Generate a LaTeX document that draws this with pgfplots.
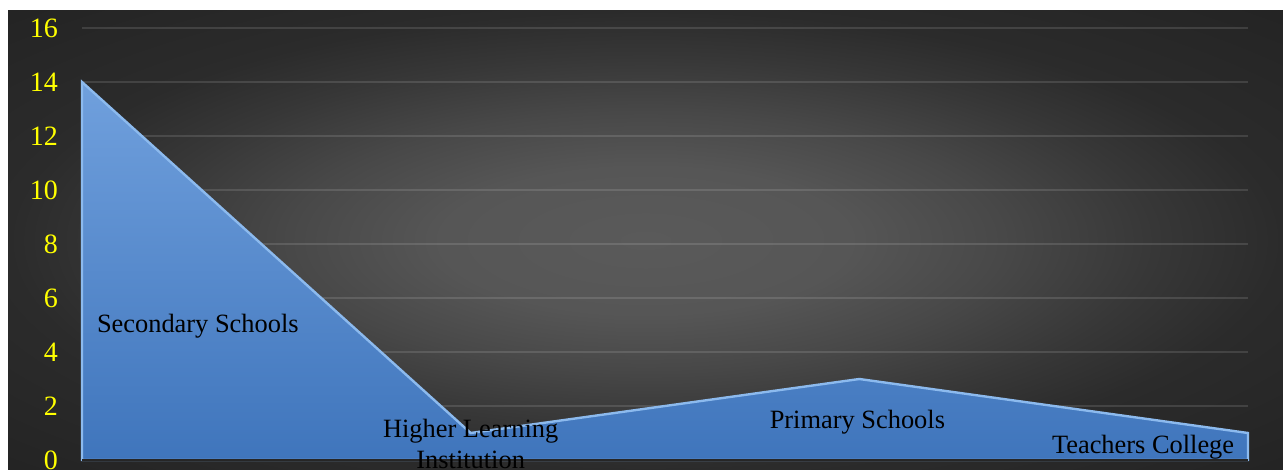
\documentclass[border=0pt]{standalone}
\usepackage{fontspec}
\setmainfont{Liberation Serif}
\usepackage{pgfplots}
\pgfplotsset{compat=1.18}
\definecolor{areatop}{HTML}{70A0DD}
\definecolor{areabot}{HTML}{3F75BC}
\definecolor{areaedge}{HTML}{8CBAEE}
\definecolor{ticky}{HTML}{FFFF00}
% broad, soft radial glow for the chart background
\pgfdeclareradialshading{bgglow}{\pgfpoint{0bp}{0bp}}{%
  color(0bp)=({rgb,255:red,90;green,90;blue,90});
  color(8bp)=({rgb,255:red,86;green,86;blue,86});
  color(14bp)=({rgb,255:red,72;green,72;blue,72});
  color(20bp)=({rgb,255:red,55;green,55;blue,55});
  color(25bp)=({rgb,255:red,43;green,43;blue,43});
  color(35bp)=({rgb,255:red,36;green,36;blue,36});
  color(50bp)=({rgb,255:red,36;green,36;blue,36})}
\begin{document}
\begin{tikzpicture}
\useasboundingbox (0,0) rectangle (641.5pt,235pt);
\fill[white] (0,0) rectangle (641.5pt,235pt);
\shade[shading=bgglow] (4pt,0) rectangle (641.5pt,229.5pt);
\begin{axis}[
  at={(41pt,5pt)}, anchor=south west,
  scale only axis, width=583pt, height=216pt,
  xmin=0, xmax=3, ymin=0, ymax=16,
  xtick=\empty, ytick={0,2,...,16},
  axis line style={draw=none},
  major tick length=0pt,
  ymajorgrids, grid style={white, opacity=0.12, line width=0.8pt},
  /pgf/number format/assume math mode=true,
  yticklabel style={text=ticky, font=\fontsize{14}{16}\selectfont, xshift=-8.5pt},
  clip=false,
]
\addplot[draw=areaedge, line width=1.2pt, top color=areatop, bottom color=areabot]
  coordinates {(0,14) (1,1) (2,3) (3,1)} \closedcycle;
\draw[black!85, line width=1pt] (axis cs:0,0) -- (axis cs:3,0);
\node[font=\fontsize{13.2}{15}\selectfont] at (axis cs:0.298,4.96) {Secondary Schools};
\node[font=\fontsize{13.2}{15.5}\selectfont, align=center] at (axis cs:1.0,0.6) {Higher Learning\\Institution};
\node[font=\fontsize{13.2}{15}\selectfont] at (axis cs:1.995,1.4) {Primary Schools};
\node[font=\fontsize{13.2}{15}\selectfont] at (axis cs:2.73,0.48) {Teachers College};
\end{axis}
\end{tikzpicture}
\end{document}
